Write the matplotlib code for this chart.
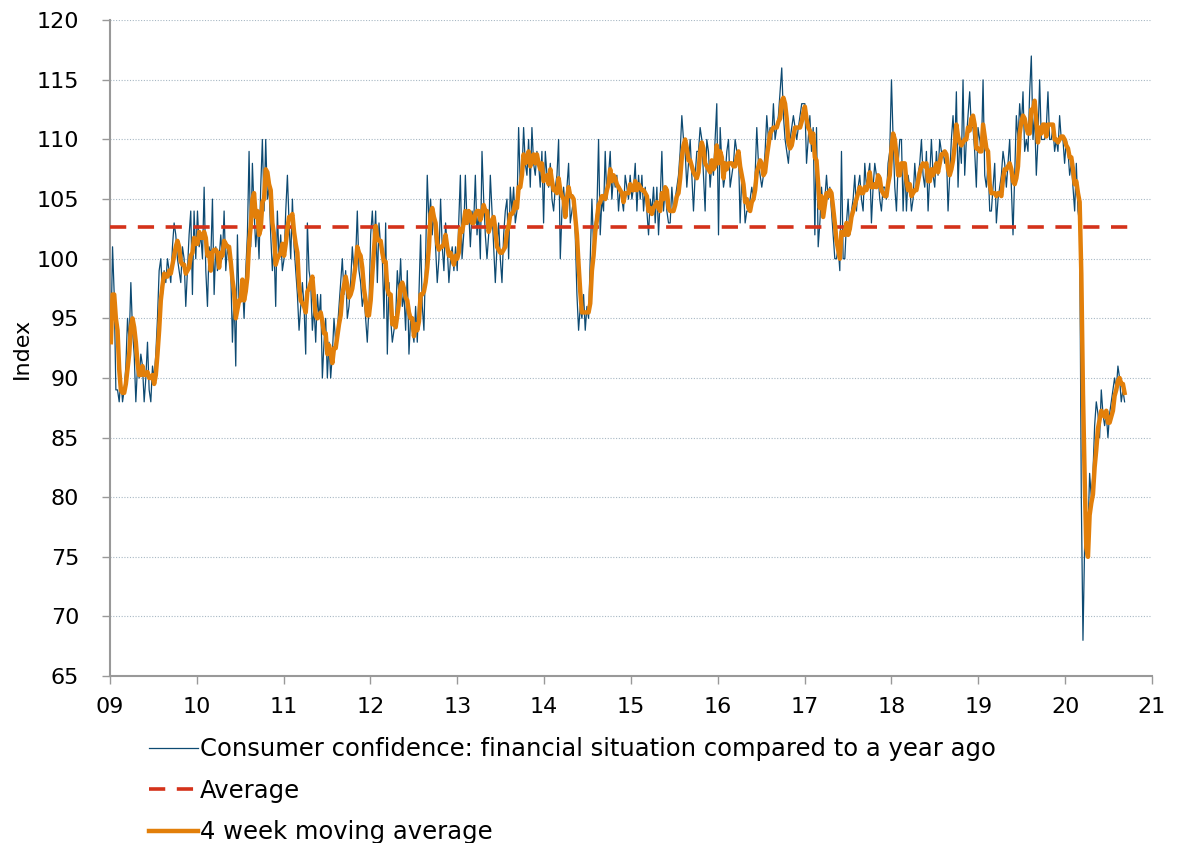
import matplotlib
matplotlib.use("Agg")
import matplotlib.pyplot as plt
import numpy as np
import pandas as pd

# weekly index values, one list per year
y2009 = [93, 101, 97, 89, 89, 88, 90, 88, 89, 91, 95, 93, 98, 94, 92, 88, 91, 90, 92, 91,
         88, 90, 93, 89, 88, 91, 90, 92, 95, 99, 100, 97, 99, 98, 100, 99, 98, 101, 103, 102,
         100, 99, 98, 101, 100, 96, 99, 102, 104, 97, 104, 100]
y2010 = [104, 101, 102, 100, 106, 99, 96, 101, 100, 105, 97, 101, 99, 100, 102, 100, 104, 99, 101, 100,
         99, 93, 97, 91, 102, 96, 97, 98, 95, 99, 102, 109, 101, 108, 104, 101, 103, 100, 106, 110,
         104, 110, 105, 106, 102, 99, 101, 96, 104, 100, 102, 99]
y2011 = [100, 104, 107, 103, 100, 105, 101, 99, 97, 94, 96, 98, 96, 92, 103, 99, 98, 94, 96, 93,
         97, 95, 97, 90, 93, 95, 90, 93, 90, 92, 95, 93, 94, 96, 98, 100, 97, 99, 95, 96,
         98, 101, 99, 100, 104, 99, 98, 96, 97, 95, 93, 96]
y2012 = [102, 104, 101, 104, 98, 103, 101, 100, 95, 103, 92, 98, 95, 93, 94, 95, 99, 97, 100, 96,
         97, 94, 99, 92, 95, 94, 93, 96, 93, 97, 102, 96, 94, 100, 107, 103, 105, 102, 104, 101,
         98, 100, 105, 101, 99, 103, 101, 98, 100, 101, 99, 101]
y2013 = [99, 103, 107, 100, 102, 107, 103, 104, 101, 104, 103, 107, 102, 104, 100, 109, 105, 102, 100, 102,
         107, 104, 101, 98, 101, 103, 100, 98, 102, 104, 105, 100, 106, 104, 106, 103, 104, 111, 106, 107,
         111, 108, 107, 110, 106, 111, 108, 107, 109, 108, 106, 109]
y2014 = [103, 109, 107, 106, 108, 105, 104, 106, 107, 110, 100, 104, 106, 104, 106, 108, 103, 104, 105, 102,
         97, 94, 96, 95, 97, 94, 96, 95, 100, 105, 101, 103, 104, 110, 102, 105, 104, 109, 105, 107,
         109, 105, 107, 106, 107, 104, 106, 105, 104, 107, 106, 105]
y2015 = [107, 105, 106, 108, 104, 107, 105, 107, 104, 106, 104, 102, 105, 104, 106, 103, 106, 102, 105, 109,
         104, 106, 104, 103, 103, 106, 104, 105, 106, 107, 109, 112, 110, 109, 106, 108, 110, 107, 104, 107,
         109, 109, 111, 110, 107, 104, 110, 109, 106, 108, 107, 110]
y2016 = [113, 102, 111, 108, 106, 107, 109, 110, 106, 107, 108, 110, 109, 109, 103, 107, 106, 103, 104, 104,
         105, 106, 105, 107, 111, 108, 107, 106, 107, 109, 112, 110, 111, 110, 113, 110, 111, 112, 114, 116,
         112, 110, 109, 108, 110, 111, 112, 111, 110, 111, 112, 113]
y2017 = [113, 113, 108, 110, 112, 109, 111, 102, 111, 101, 103, 106, 104, 105, 107, 105, 106, 104, 102, 100,
         100, 101, 99, 109, 100, 100, 103, 105, 102, 104, 105, 107, 104, 106, 107, 105, 104, 108, 106, 107,
         108, 103, 106, 108, 107, 107, 105, 104, 106, 106, 105, 108]
y2018 = [109, 115, 110, 106, 104, 108, 110, 110, 104, 108, 104, 107, 106, 104, 105, 108, 106, 107, 108, 110,
         107, 106, 109, 104, 107, 110, 107, 106, 109, 107, 110, 109, 109, 108, 109, 104, 107, 110, 112, 109,
         114, 106, 110, 108, 115, 107, 110, 112, 114, 111, 111, 109]
y2019 = [106, 111, 110, 109, 115, 107, 106, 108, 104, 104, 106, 108, 103, 105, 106, 107, 109, 108, 106, 108,
         110, 106, 102, 107, 112, 110, 113, 111, 114, 109, 110, 109, 114, 117, 110, 112, 107, 110, 115, 110,
         110, 110, 111, 114, 110, 110, 111, 109, 110, 109, 112, 110]
y2020 = [110, 108, 110, 109, 107, 108, 106, 104, 108, 104, 103, 80, 68, 76, 79, 77, 82, 80, 82, 86,
         88, 87, 85, 89, 87, 86, 87, 85, 87, 88, 89, 90, 89, 91, 90, 88, 89, 88]

average_value = 102.65
year_ticks = list(range(2009, 2022))
year_labels = ["09", "10", "11", "12", "13", "14", "15", "16", "17", "18", "19", "20", "21"]

values = np.array(y2009 + y2010 + y2011 + y2012 + y2013 + y2014 + y2015 + y2016
                  + y2017 + y2018 + y2019 + y2020, dtype=float)
dates = pd.date_range("2009-01-05", periods=len(values), freq="7D")
t = dates.year + (dates.dayofyear - 1) / 365.25
moving = pd.Series(values).rolling(4, min_periods=1).mean()

plt.rcParams['font.family'] = ['DejaVu Sans']

fig = plt.figure(figsize=(11.82, 8.43), dpi=100)
ax = fig.add_axes([0.093, 0.198, 0.8816, 0.778])

blue = '#0d4a72'
red = '#d4321a'
orange = '#e27f0a'

ax.plot(t, values, color=blue, lw=0.9, zorder=3,
        label='Consumer confidence: financial situation compared to a year ago')
ax.plot([2009, 2020.76], [average_value, average_value], color=red, lw=2.6,
        dashes=(4.5, 3.2), zorder=4, label='Average')
ax.plot(t, moving, color=orange, lw=3.2, zorder=5, label='4 week moving average')

ax.set_xlim(2009, 2021)
ax.set_ylim(65, 120)
ax.set_yticks(range(65, 121, 5))
ax.set_xticks(year_ticks)
ax.set_xticklabels(year_labels)
ax.tick_params(axis='both', labelsize=16, color='#999999', length=6, width=1)
ax.tick_params(axis='x', pad=9)
ax.tick_params(axis='y', pad=16)
ax.grid(axis='y', color='#a8b8c4', linestyle=(0, (1, 1.5)), linewidth=0.8)
ax.set_axisbelow(True)
for s in ['top', 'right']:
    ax.spines[s].set_visible(False)
for s in ['left', 'bottom']:
    ax.spines[s].set_color('#999999')
    ax.spines[s].set_linewidth(1.5)
ax.set_ylabel('Index', fontsize=16)
ax.yaxis.set_label_coords(-0.075, 0.5)

fig.legend(loc='upper left', bbox_to_anchor=(0.118, 0.137), frameon=False,
           fontsize=17.5, handlelength=2.0, handletextpad=0.1, labelspacing=0.72,
           borderaxespad=0)

fig.savefig('out.png', dpi=100)
